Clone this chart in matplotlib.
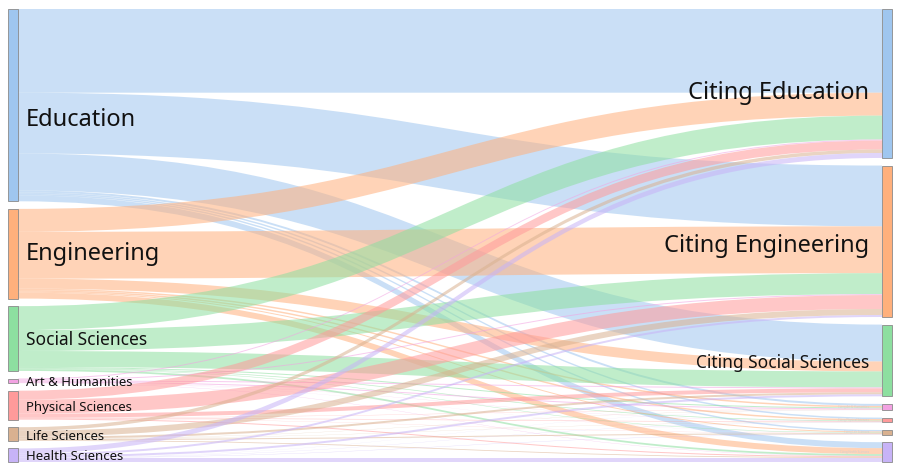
import matplotlib.pyplot as plt
from matplotlib.path import Path
from matplotlib.patches import PathPatch, Rectangle

# Citation flows: cited field (left) -> citing field (right)
fields = ["Education", "Engineering", "Social Sciences", "Art & Humanities",
          "Physical Sciences", "Life Sciences", "Health Sciences"]
citing = ["Citing " + f for f in fields]

# rows: source field, columns: citing field (same order)
edu_flows = [84, 61, 37, 2.0, 1.5, 1.5, 6.0]
eng_flows = [23, 47, 10, 1.5, 1.5, 1.0, 6.0]
soc_flows = [24, 21, 16, 1.0, 0.7, 0.5, 1.8]
art_flows = [1.0, 1.0, 1.0, 1.0, 0.2, 0.1, 0.3]
phys_flows = [9, 14, 4, 0.3, 0.5, 0.2, 1.0]
life_flows = [3.5, 6, 2, 0.2, 0.2, 1.0, 0.8]
health_flows = [5, 2, 2, 0.1, 0.2, 0.3, 4.0]
flows = [edu_flows, eng_flows, soc_flows, art_flows, phys_flows, life_flows, health_flows]

colors = ["#9fc6ef", "#ffb07c", "#8ddfa0", "#f2a2e2", "#ff9a9a", "#d9b190", "#c7b3f7"]
# label styling (font size, vertical nudge in px)
left_sizes = [17, 17, 12.5, 9.5, 9.5, 9.5, 9.5]
right_sizes = [17, 17, 12.5, 2, 2, 2, 2]
left_nudge = [15, 0, 1.5, 1.5, 2, 2, 1.5]
right_nudge = [10, 5, 2.5, 0, 0, 0, 0]

W, H = 902, 471
TOP, BOTTOM, GAP = 9, 462, 7.6
X_LEFT, X_RIGHT, NODE_W = 8, 882, 10

n = len(fields)
left_tot = [sum(r) for r in flows]
right_tot = [sum(flows[i][j] for i in range(n)) for j in range(n)]
scale = min((BOTTOM - TOP - GAP * (n - 1)) / sum(left_tot),
            (BOTTOM - TOP - GAP * (n - 1)) / sum(right_tot))


def stack(totals):
    ys, y = [], TOP
    for t in totals:
        ys.append(y)
        y += t * scale + GAP
    return ys


left_y = stack(left_tot)
right_y = stack(right_tot)

fig = plt.figure(figsize=(W / 100, H / 100), dpi=100)
ax = fig.add_axes([0, 0, 1, 1])
ax.set_xlim(0, W)
ax.set_ylim(H, 0)
ax.axis("off")

# links
src_off = list(left_y)
tgt_off = list(right_y)
x0, x1 = X_LEFT + NODE_W, X_RIGHT
xm = (x0 + x1) / 2
for i in range(n):
    for j in range(n):
        v = flows[i][j] * scale
        if v <= 0:
            continue
        s0 = src_off[i]
        s1 = s0 + v
        t0 = tgt_off[j]
        t1 = t0 + v
        src_off[i] = s1
        tgt_off[j] = t1
        verts = [(x0, s0), (xm, s0), (xm, t0), (x1, t0),
                 (x1, t1), (xm, t1), (xm, s1), (x0, s1), (x0, s0)]
        codes = [Path.MOVETO, Path.CURVE4, Path.CURVE4, Path.CURVE4,
                 Path.LINETO, Path.CURVE4, Path.CURVE4, Path.CURVE4, Path.CLOSEPOLY]
        ax.add_patch(PathPatch(Path(verts, codes), facecolor=colors[i],
                               edgecolor="none", alpha=0.55, zorder=1))

# nodes and labels
font = ["Noto Sans", "DejaVu Sans"]
for k in range(n):
    h = left_tot[k] * scale
    ax.add_patch(Rectangle((X_LEFT, left_y[k]), NODE_W, h, facecolor=colors[k],
                           edgecolor="#8a8a8a", lw=0.6, zorder=3))
    ax.text(X_LEFT + NODE_W + 8, left_y[k] + h / 2 + left_nudge[k], fields[k],
            ha="left", va="center", fontsize=left_sizes[k], family=font,
            color="#111111", zorder=4)

    h = right_tot[k] * scale
    ax.add_patch(Rectangle((X_RIGHT, right_y[k]), NODE_W, h, facecolor=colors[k],
                           edgecolor="#8a8a8a", lw=0.6, zorder=3))
    ax.text(X_RIGHT - 13, right_y[k] + h / 2 + right_nudge[k], citing[k],
            ha="right", va="center", fontsize=right_sizes[k], family=font,
            color="#111111" if right_sizes[k] > 5 else "#d0d0d0", zorder=4)

fig.savefig("out.png", dpi=100)
